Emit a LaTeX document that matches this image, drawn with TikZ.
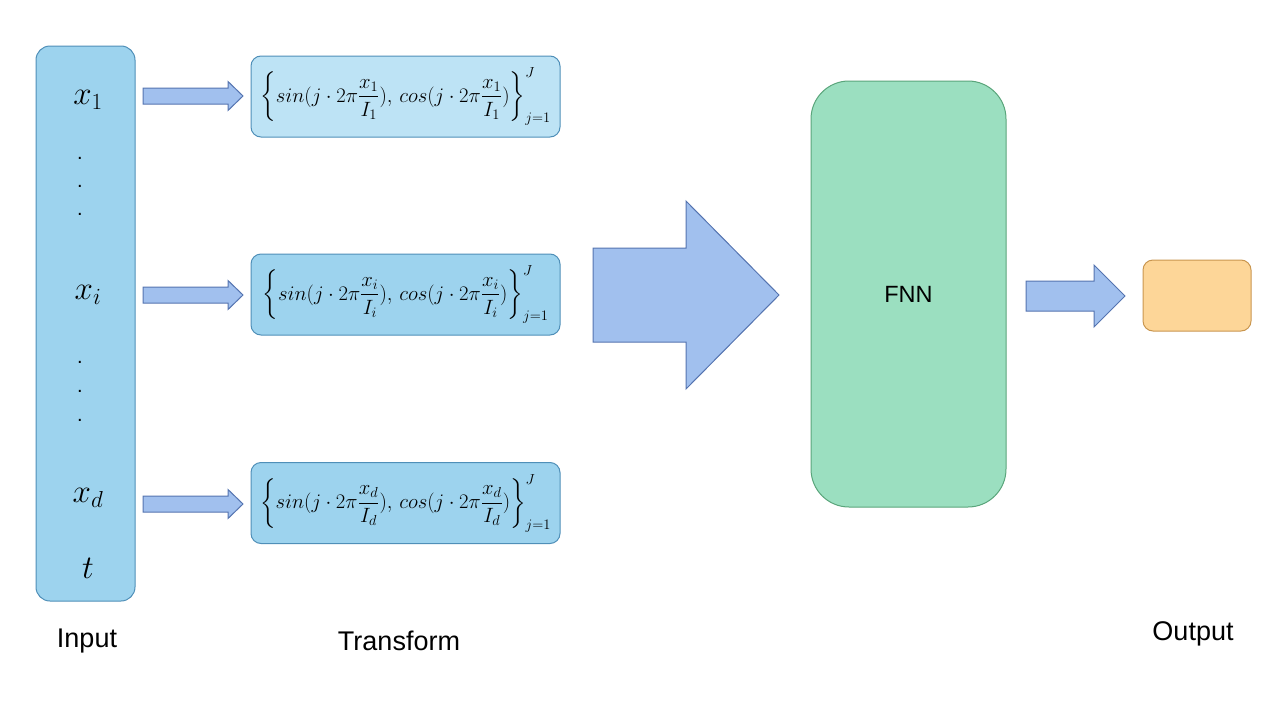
\RequirePackage{fix-cm}
\documentclass[tikz,border=0pt]{standalone}
\usepackage{amsmath}
\usepackage[no-math]{fontspec}
\setmainfont{Liberation Sans}
\definecolor{infill}{HTML}{9DD3EE}
\definecolor{indraw}{HTML}{4F8FB8}
\definecolor{tlight}{HTML}{BDE3F5}
\definecolor{arfill}{HTML}{A1C0EE}
\definecolor{ardraw}{HTML}{5574B0}
\definecolor{fnnfill}{HTML}{9BDFC0}
\definecolor{fnndraw}{HTML}{5AA57B}
\definecolor{outfill}{HTML}{FDD698}
\definecolor{outdraw}{HTML}{C9964F}
\newcommand{\feat}[1]{\fontsize{20.7}{24}\selectfont$\displaystyle\left\{sin(j\cdot 2\pi\frac{x_{#1}}{I_{#1}}),\, cos(j\cdot 2\pi\frac{x_{#1}}{I_{#1}})\right\}_{j=1}^{J}$}
\newcommand{\blockarrow}[6]{% x0, x1, xh, ymid, shaft half, head half
  \path[blockarr] (#1,#4-#5) -- (#3,#4-#5) -- (#3,#4-#6) -- (#2,#4) -- (#3,#4+#6) -- (#3,#4+#5) -- (#1,#4+#5) -- cycle;}
\tikzset{
  blockarr/.style={fill=arfill, draw=ardraw, line width=1pt, line join=miter},
  tbox/.style={draw=indraw, line width=1pt, rounded corners=10pt, minimum width=309pt, minimum height=81pt, inner sep=0pt},
  lbl/.style={font=\fontsize{27}{32}\selectfont},
  var/.style={font=\fontsize{33}{38}\selectfont},
  dotl/.style={font=\fontsize{20}{24}\selectfont},
}
\begin{document}
\begin{tikzpicture}[x=1pt,y=-1pt]
\useasboundingbox (0,0) rectangle (1280,720);
% input column
\node[draw=indraw, fill=infill, line width=1pt, rounded corners=14pt, minimum width=99pt, minimum height=555pt, inner sep=0pt] (input) at (85.5,323.5) {};
\node[var] (x1) at (88,100) {$x_1$};
\node[dotl] (d1) at (80,158) {.};
\node[dotl] (d2) at (80,186) {.};
\node[dotl] (d3) at (80,214) {.};
\node[var] (xi) at (88,295) {$x_i$};
\node[dotl] (d4) at (80,362) {.};
\node[dotl] (d5) at (80,391) {.};
\node[dotl] (d6) at (80,420) {.};
\node[var] (xd) at (88,498) {$x_d$};
\node[var] (t) at (88,568) {$t$};
% transform boxes
\node[tbox, fill=tlight] (t1) at (405.5,96.5) {\feat{1}};
\node[tbox, fill=infill] (ti) at (405.5,294.5) {\feat{i}};
\node[tbox, fill=infill] (td) at (405.5,503) {\feat{d}};
% small arrows
\blockarrow{143}{243}{228}{96}{8}{14.5}
\blockarrow{143}{243}{228}{295}{8}{14.5}
\blockarrow{143}{243}{228}{504}{8}{14.5}
% big arrow
\blockarrow{593}{779}{686}{295}{47}{94}
% FNN
\node[draw=fnndraw, fill=fnnfill, line width=1pt, rounded corners=38pt, minimum width=195pt, minimum height=426pt, inner sep=0pt, font=\fontsize{23.5}{28}\selectfont] (fnn) at (908.5,294) {FNN};
% output arrow
\blockarrow{1026}{1125}{1094}{296}{15}{31}
% output box
\node[draw=outdraw, fill=outfill, line width=1pt, rounded corners=10pt, minimum width=108pt, minimum height=71pt, inner sep=0pt] (out) at (1197,295.5) {};
% labels
\node[lbl] (linput) at (87,641) {Input};
\node[lbl] (ltrans) at (399,641) {Transform};
\node[lbl] (lout) at (1193,634) {Output};
\end{tikzpicture}
\end{document}
